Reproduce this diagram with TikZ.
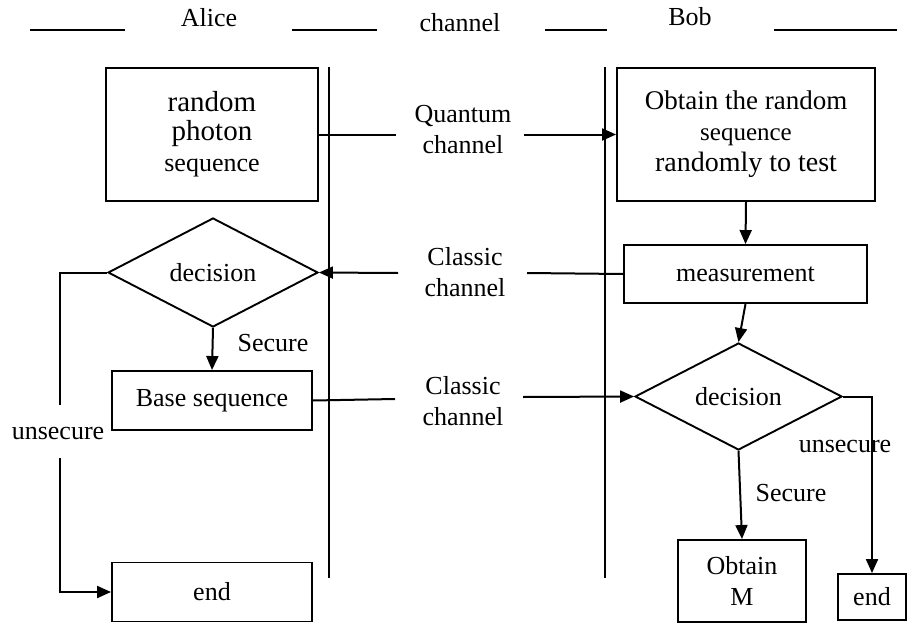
\documentclass[tikz,border=0pt]{standalone}
\usepackage{fontspec}
\setmainfont{Liberation Serif}
\usetikzlibrary{arrows.meta,shapes.geometric}
\begin{document}
\begin{tikzpicture}[x=1pt,y=-1pt,line width=2pt,
  base/.style={font=\fontsize{26}{31}\selectfont},
  box/.style={base,draw,rectangle,inner sep=0pt,align=center,line width=1.9pt},
  dia/.style={base,draw,diamond,aspect=2,inner sep=0pt,line width=1.9pt},
  lab/.style={base,align=center,inner sep=0pt},
  arr/.style={-{Triangle[length=14pt,width=12pt]}}]
\useasboundingbox (0,0) rectangle (909,623);
% header
\foreach \a/\b in {30/125,292/377,545/607,774/897}
  \draw (\a,30) -- (\b,30);
\node[lab,anchor=base] (alice) at (209,27) {Alice};
\node[lab,anchor=base] (chan) at (460,32) {channel};
\node[lab,anchor=base] (bob) at (690,26) {Bob};
% lane lines
\draw[line width=2.2pt] (329,67) -- (329,578);
\draw[line width=2.2pt] (605,67) -- (605,578);
% nodes
\node[box,minimum width=212pt,minimum height=133pt] (rps) at (212,134.5)
  {{\fontsize{29}{35}\selectfont random}\\[-2pt]{\fontsize{29}{33}\selectfont photon}\\{\fontsize{26}{31}\selectfont sequence}};
\node[box,minimum width=258pt,minimum height=133pt] (obt) at (746,134.5)
  {{\fontsize{27}{32}\selectfont Obtain the random}\\{\fontsize{25}{31}\selectfont sequence}\\{\fontsize{28}{32}\selectfont randomly to test}};
\node[box,minimum width=243pt,minimum height=58pt] (meas) at (745.5,274) {measurement};
\node[dia,minimum width=210pt,minimum height=109pt] (dec1) at (213,272.5) {decision};
\node[box,minimum width=200pt,minimum height=59pt] (bseq) at (212,400.5) {Base sequence};
\node[dia,minimum width=207pt,minimum height=107pt] (dec2) at (738.5,396.5) {decision};
\node[box,minimum width=200pt,minimum height=59pt] (end1) at (212,592) {end};
\node[box,minimum width=128pt,minimum height=82pt] (obm) at (742,581) {Obtain\\M};
\node[box,minimum width=68pt,minimum height=46pt] (end2) at (872,597) {end};
% channel labels
\node[lab] (qlab) at (463,130) {Quantum\\channel};
\node[lab] (clab1) at (465,272) {Classic\\channel};
\node[lab] (clab2) at (463,401) {Classic\\channel};
\coordinate (q1) at (396,134.5);
\coordinate (q2) at (524,134.5);
\coordinate (c1r) at (527,273);
\coordinate (c1l) at (398,273);
\coordinate (c2l) at (395,399);
\coordinate (c2r) at (523,397);
% connectors
\draw (rps.east) -- (q1);
\draw[arr] (q2) -- (obt.west);
\draw (meas.west) -- (c1r);
\draw[arr] (c1l) -- (dec1.east);
\draw (bseq.east) -- (c2l);
\draw[arr] (c2r) -- (dec2.west);
\draw[arr] (obt.south) -- (meas.north);
\draw[arr] (meas.south) -- (dec2.north);
\draw[arr] (dec1.south) -- (bseq.north);
\node[lab] (sec1) at (273,343) {Secure};
% left unsecure path
\coordinate (u1) at (60,405);
\coordinate (u2) at (60,458);
\draw (dec1.west) -| (u1);
\node[lab] (uns1) at (58,433) {unsecure};
\draw[arr] (u2) |- (end1.west);
% right lower
\draw[arr] (dec2.south) -- (obm.north);
\node[lab] (sec2) at (791,493) {Secure};
\node[lab] (uns2) at (845,446) {unsecure};
\draw[arr] (dec2.east) -| (end2.north);
\end{tikzpicture}
\end{document}
